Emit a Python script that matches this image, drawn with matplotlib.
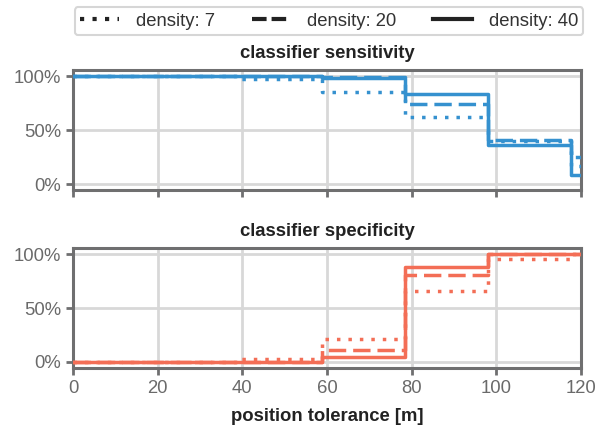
import numpy as np
import matplotlib
matplotlib.use("Agg")
import matplotlib.pyplot as plt
from matplotlib.ticker import PercentFormatter

plt.rcParams['font.family'] = ['Liberation Sans', 'DejaVu Sans']

# step edges of the position tolerance (m)
tolerance = [0, 19.6, 39.2, 58.8, 78.4, 98.0, 117.6, 120]
densities = [7, 20, 40]

sensitivity = {
    7:  [1.0, 1.0, 0.975, 0.85, 0.62, 0.40, 0.17, 0.17],
    20: [1.0, 1.0, 1.0, 0.99, 0.745, 0.41, 0.25, 0.25],
    40: [1.0, 1.0, 1.0, 0.98, 0.83, 0.36, 0.085, 0.085],
}
specificity = {
    7:  [0.0, 0.0, 0.03, 0.21, 0.66, 0.95, 1.0, 1.0],
    20: [0.0, 0.0, 0.0, 0.11, 0.805, 1.0, 1.0, 1.0],
    40: [0.0, 0.0, 0.0, 0.05, 0.88, 1.0, 1.0, 1.0],
}

styles = {7: (0, (1, 2.3)), 20: (0, (5, 2)), 40: '-'}
blue = '#3591cf'
red = '#f36e56'
spine_col = '#6f6f70'
grid_col = '#d8d8d8'
fs = 13.3

fig = plt.figure(figsize=(6.16, 4.30), dpi=100)
ax1 = fig.add_axes([0.1185, 0.558, 0.8247, 0.279])
ax2 = fig.add_axes([0.1185, 0.1442, 0.8247, 0.279])

for ax, data, col, title in [(ax1, sensitivity, blue, 'classifier sensitivity'),
                             (ax2, specificity, red, 'classifier specificity')]:
    for d in densities:
        ax.step(tolerance, data[d], where='post', color=col, lw=2.5,
                linestyle=styles[d], zorder=3)
    ax.set_xlim(0, 120)
    ax.set_ylim(-0.0556, 1.0556)
    ax.set_yticks([0, 0.5, 1.0])
    ax.yaxis.set_major_formatter(PercentFormatter(1.0, decimals=0))
    ax.set_xticks([0, 20, 40, 60, 80, 100, 120])
    ax.grid(True, color=grid_col, lw=2.0, zorder=0)
    ax.set_axisbelow(True)
    for s in ax.spines.values():
        s.set_color(spine_col)
        s.set_linewidth(2.2)
    ax.tick_params(colors=spine_col, labelcolor='#6a6a6a', labelsize=fs,
                   width=2.0, length=5, direction='out')
    ax.set_title(title, fontsize=fs, fontweight='bold', color='#222222', pad=9)

ax1.tick_params(axis='x', labelbottom=False)
ax2.set_xlabel('position tolerance [m]', fontsize=fs, fontweight='bold',
               color='#222222', labelpad=8)

# legend with black handles
handles = [plt.Line2D([], [], color='#222222', lw=3.0,
                      linestyle={7: (0, (1, 2)), 20: (0, (3.5, 1.2)), 40: '-'}[d])
           for d in densities]
labels = ['density: %d' % d for d in densities]
leg = ax1.legend(handles, labels, loc='lower center', ncol=3,
                 bbox_to_anchor=(0.504, 1.29), fontsize=fs,
                 frameon=True, fancybox=True, handlelength=2.1,
                 borderpad=0.3, columnspacing=2.0, handletextpad=0.9,
                 borderaxespad=0)
leg.get_frame().set_edgecolor('#cccccc')
leg.get_frame().set_linewidth(1.5)
for t in leg.get_texts():
    t.set_color('#333333')

fig.savefig('out.png', dpi=100)
